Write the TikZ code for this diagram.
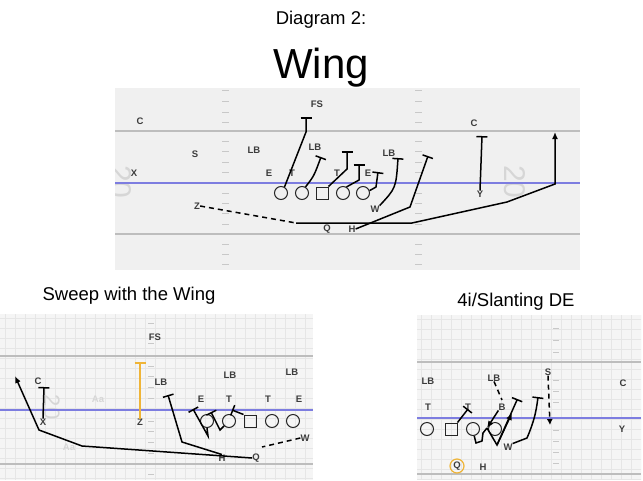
\documentclass[tikz,border=0pt]{standalone}
\usepackage{fontspec}
\setmainfont{Liberation Sans}
\usetikzlibrary{arrows.meta}
\definecolor{fieldc}{HTML}{F0F0F0}
\definecolor{gridbg}{HTML}{F5F5F5}
\definecolor{gridln}{HTML}{E6E6E6}
\definecolor{yardc}{HTML}{BDBDBD}
\definecolor{losc}{HTML}{7D7DE0}
\definecolor{hashc}{HTML}{C8C8C8}
\definecolor{labc}{HTML}{3C3C3C}
\definecolor{fadec}{HTML}{D6D6D6}
\definecolor{orangec}{HTML}{EFB437}

\begin{document}
\begin{tikzpicture}[x=1pt,y=-1pt]
\tikzstyle{lbl}=[font=\fontsize{9.5}{10}\selectfont\bfseries,text=labc,inner sep=0pt]
\tikzstyle{faint}=[font=\fontsize{9.5}{10}\selectfont\bfseries,text=fadec,inner sep=0pt]
\tikzstyle{ttl}=[font=\fontsize{18.5}{20}\selectfont,inner sep=0pt]
\tikzstyle{man}=[draw=black!85,line width=1pt,circle,minimum size=13pt,inner sep=0pt]
\tikzstyle{ctr}=[draw=black!85,line width=1pt,rectangle,minimum size=12pt,inner sep=0pt]
\tikzstyle{rte}=[line width=1.5pt,black]
\tikzstyle{blk}=[rte,-{Bar[width=11pt,line width=1.5pt]}]
\tikzstyle{run}=[rte,-{Latex[length=7pt,width=6pt]}]
\tikzstyle{motion}=[rte,dashed,dash pattern=on 5pt off 4pt]
\tikzstyle{yard}=[yardc,line width=1.6pt]
\tikzstyle{los}=[losc,line width=1.4pt]
\tikzstyle{hash}=[hashc,line width=0.8pt]
\useasboundingbox (0,0) rectangle (643,480);
\fill[white] (0,0) rectangle (643,480);

\node[ttl] (diag) at (321,20) {Diagram 2:};
\node[font=\fontsize{42}{44}\selectfont,inner sep=0pt] (wing) at (321,68) {Wing};
\node[ttl] (sweep) at (129,296) {Sweep with the Wing};
\node[ttl] (slant) at (516,302) {4i/Slanting DE};

% top field
\begin{scope}
\clip (115,88) rectangle (580,270);
\fill[fieldc] (115,88) rectangle (580,270);
\node[fadec,font=\fontsize{30}{30}\selectfont,rotate=-90] (num1) at (121,182) {20};
\node[fadec,font=\fontsize{30}{30}\selectfont,rotate=-90] (num2) at (515,182) {20};
\draw[yard] (115,131) -- (580,131);
\draw[yard] (115,234) -- (580,234);
\draw[los] (115,183) -- (580,183);
\foreach \y in {90,101,112,122,141,151,162,172,193,203,213,224,244,254,264}{
  \draw[hash] (222,\y) -- (229,\y);
  \draw[hash] (415,\y) -- (422,\y);
}
\end{scope}

\node[lbl] (fs) at (317,104) {FS};
\node[lbl] (c1) at (140,121) {C};
\node[lbl] (c2) at (474,123) {C};
\node[lbl] (s1) at (195,154) {S};
\node[lbl] (lb1) at (254,150) {LB};
\node[lbl] (lb2) at (315,147) {LB};
\node[lbl] (lb3) at (389,153) {LB};
\node[lbl] (x1) at (134,173) {X};
\node[lbl] (e1) at (269,173) {E};
\node[lbl] (t1) at (292,173) {T};
\node[lbl] (t2) at (337,173) {T};
\node[lbl] (e2) at (368,173) {E};
\node[lbl] (y1) at (480,194) {Y};
\node[lbl] (z1) at (197,206) {Z};
\node[lbl] (w1) at (375,209) {W};
\node[lbl] (q1) at (327,229) {Q};
\node[lbl] (h1) at (352,229) {H};

\node[man] (lt1) at (281,193) {};
\node[man] (lg1) at (302,193) {};
\node[ctr] (cn1) at (322,193) {};
\node[man] (rg1) at (343,193) {};
\node[man] (rt1) at (363,193) {};

\coordinate (zm1) at (296,223);
\draw[blk] (lt1.60) -- (306,132) -- (306,117);
\draw[blk] (lg1.60) .. controls (314,176) .. (321,157);
\draw[blk] (cn1.north east) -- (347,169) -- (347,151);
\draw[blk] (rg1.60) -- (359,180) -- (359,164);
\draw[blk] (rt1.20) -- (376,187) -- (378,172);
\draw[blk] (w1.north east) .. controls (396,188) .. (398,158);
\draw[blk] (h1.east) -- (410,207) -- (428,156);
\draw[blk] (y1.north) -- (482,136);
\draw[motion] (z1.east) -- (zm1);
\draw[run] (zm1) -- (412,223) -- (507,202) -- (555,184) -- (555,132);

% sweep
\begin{scope}
\clip (0,314) rectangle (313,480);
\fill[gridbg] (0,314) rectangle (313,480);
\foreach \gx in {5,15,...,313}{\draw[gridln,line width=0.4pt] (\gx,314) -- (\gx,480);}
\foreach \gy in {318,328,...,480}{\draw[gridln,line width=0.4pt] (0,\gy) -- (313,\gy);}
\node[fadec,font=\fontsize{22}{22}\selectfont,rotate=-90] (num3) at (52,407) {20};
\draw[yard] (0,356) -- (313,356);
\draw[yard] (0,464) -- (313,464);
\draw[los] (0,410) -- (313,410);
\foreach \y in {323,343,366,376,387,398,421,431,442,453,474}{
  \draw[hash] (148,\y) -- (154,\y);
}
\end{scope}

\node[faint] (aa1) at (98,399) {Aa};
\node[faint] (aa2) at (69,447) {Aa};
\node[lbl] (fs2) at (155,337) {FS};
\node[lbl] (c3) at (38,381) {C};
\node[lbl] (x2) at (43,422) {X};
\node[lbl] (z2) at (140,422) {Z};
\node[lbl] (lb4) at (161,382) {LB};
\node[lbl] (lb5) at (230,375) {LB};
\node[lbl] (lb6) at (292,372) {LB};
\node[lbl] (e3) at (201,399) {E};
\node[lbl] (t3) at (229,399) {T};
\node[lbl] (t4) at (268,399) {T};
\node[lbl] (e4) at (299,399) {E};
\node[lbl] (w2) at (305,438) {W};
\node[lbl] (q2) at (256,458) {Q};
\node[lbl] (h2) at (222,458) {H};

\node[man] (lt2) at (207,421) {};
\node[man] (lg2) at (229,421) {};
\node[ctr] (cn2) at (250,421) {};
\node[man] (rg2) at (272,421) {};
\node[man] (rt2) at (293,421) {};

\draw[blk,orangec] (z2.north) -- (140,362);
\draw[blk] (x2.north) -- (44,387);
\draw[run] (q2.west) -- (82,446) -- (39,430) -- (15,376);
\draw[blk] (h2.north) -- (182,442) -- (168,395);
\draw[motion] (w2.west) -- (262,447);
\draw[blk] (lt2.south) -- (208,436) -- (193,409);
\draw[blk] (lg2.south west) -- (220,430) -- (211,412);
\draw[blk] (cn2.north west) -- (232,410);

% slanting
\begin{scope}
\clip (417,315) rectangle (641,480);
\fill[gridbg] (417,315) rectangle (641,480);
\foreach \gx in {421,431,...,641}{\draw[gridln,line width=0.4pt] (\gx,315) -- (\gx,480);}
\foreach \gy in {319,329,...,480}{\draw[gridln,line width=0.4pt] (417,\gy) -- (641,\gy);}
\draw[yard] (417,362) -- (641,362);
\draw[yard] (417,474) -- (641,474);
\draw[los] (417,418) -- (641,418);
\foreach \y in {328,340,352,380,391,402,430,441,452,463}{
  \draw[hash] (553,\y) -- (559,\y);
}
\end{scope}

\node[lbl] (lb7) at (428,381) {LB};
\node[lbl] (lb8) at (494,378) {LB};
\node[lbl] (s2) at (548,372) {S};
\node[lbl] (c4) at (623,383) {C};
\node[lbl] (t5) at (428,407) {T};
\node[lbl] (t6) at (468,407) {T};
\node[lbl] (b1) at (502,407) {B};
\node[lbl] (y2) at (622,429) {Y};
\node[lbl] (w3) at (508,447) {W};
\node[lbl] (q3) at (457,466) {Q};
\node[lbl] (h3) at (483,467) {H};
\draw[orangec,line width=1.2pt] (q3) circle (7);

\node[man] (lg3) at (427,429) {};
\node[ctr] (cn3) at (451,429) {};
\node[man] (rg3) at (473,429) {};
\node[man] (rt3) at (495,429) {};

\coordinate (sl1) at (487,428);
\draw[blk] (cn3.north east) -- (468,409);
\draw[motion] (lb8.south) -- (502,400);
\draw[run] (b1.south west) -- (sl1);
\draw[rte] (rg3.-80) -- (476,443) -- (482,441) -- (483,433) -- (sl1);
\draw[rte] (sl1) -- (497,445) -- (517,400);
\draw[run] (497,445) -- (512,413);
\draw[blk] (517,400) -- ++(0.4,-1);
\draw[blk] (w3.north east) -- (527,438) to[bend right=8] (538,397);
\draw[motion,-{Latex[length=6pt,width=6pt]}] (s2.south) -- (550,425);
\end{tikzpicture}
\end{document}
